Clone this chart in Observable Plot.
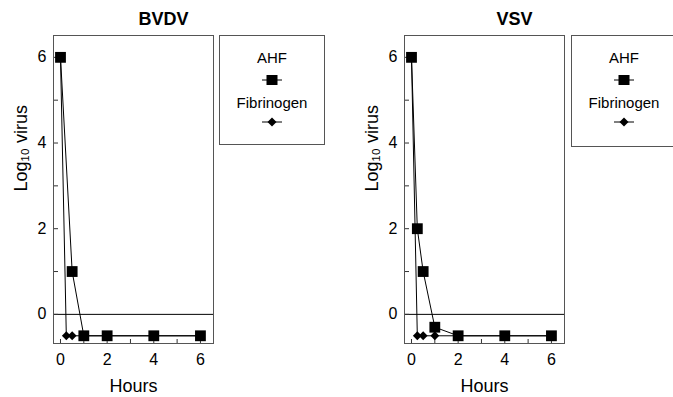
<!DOCTYPE html>
<html><head><meta charset="utf-8">
<script src="https://cdn.jsdelivr.net/npm/d3@7"></script>
<script src="https://cdn.jsdelivr.net/npm/@observablehq/plot@0.6"></script>
<style>
body{margin:0;background:#fff;font-family:"Liberation Sans",Arial,sans-serif;}
#root{position:relative;width:673px;height:397px;overflow:hidden;background:#fff;}
.panel{position:absolute;top:0;}
.legend{position:absolute;top:35px;border:1px solid #555;box-sizing:border-box;color:#000;font-size:15px;}
.legend .t{position:absolute;left:0;right:0;text-align:center;line-height:16px;}
.legend svg{position:absolute;}
</style></head><body><div id="root"></div>
<script>
// ---- data ----
const series = ["AHF", "Fibrinogen"];
const bvdvAhfHours = [0, 0.5, 1, 2, 4, 6];
const bvdvAhfLog = [6, 1, -0.5, -0.5, -0.5, -0.5];
const bvdvFibHours = [0, 0.25, 0.5, 1, 2, 4, 6];
const bvdvFibLog = [6, -0.5, -0.5, -0.5, -0.5, -0.5, -0.5];
const vsvAhfHours = [0, 0.25, 0.5, 1, 2, 4, 6];
const vsvAhfLog = [6, 2, 1, -0.3, -0.5, -0.5, -0.5];
const vsvFibHours = [0, 0.25, 0.5, 1, 2, 4, 6];
const vsvFibLog = [6, -0.5, -0.5, -0.5, -0.5, -0.5, -0.5];
const yTickLabels = [0, 2, 4, 6];
const yTicks = [0, 1, 2, 3, 4, 5, 6];
const xTickLabels = [0, 2, 4, 6];
const xTicks = [0, 1, 2, 3, 4, 5, 6];

const font = "Liberation Sans, Arial, sans-serif";

function panel(title, ahfH, ahfV, fibH, fibV) {
  const ahf = ahfH.map((h, i) => ({h, v: ahfV[i]}));
  const fib = fibH.map((h, i) => ({h, v: fibV[i]}));
  return Plot.plot({
    width: 220, height: 397,
    marginLeft: 53, marginRight: 7, marginTop: 35, marginBottom: 54,
    style: {fontFamily: font, fontSize: "16px", color: "#000", background: "transparent", overflow: "visible"},
    x: {domain: [-0.3, 6.56]},
    y: {domain: [-0.68, 6.51]},
    marks: [
      Plot.ruleY([0], {stroke: "#000", strokeWidth: 1}),
      Plot.ruleY(yTicks, {y: d => d, insetRight: 155, stroke: "#333"}),
      Plot.ruleX(xTicks, {x: d => d, insetTop: 304, stroke: "#333"}),
      Plot.axisY(yTickLabels, {tickSize: 0, tickPadding: 7, fontSize: 16, label: null}),
      Plot.axisX(xTickLabels, {tickSize: 0, tickPadding: 10, fontSize: 16, label: null}),
      Plot.frame({stroke: "#555"}),
      Plot.line(fib, {x: "h", y: "v", stroke: "#000", strokeWidth: 1}),
      Plot.dot(fib, {x: "h", y: "v", symbol: "diamond2", r: 4, fill: "#000", stroke: "none"}),
      Plot.line(ahf, {x: "h", y: "v", stroke: "#000", strokeWidth: 1}),
      Plot.dot(ahf, {x: "h", y: "v", symbol: "square", r: 6.1, fill: "#000", stroke: "none"}),
      Plot.text([title], {frameAnchor: "top", dx: 30, dy: -16, lineAnchor: "middle", fontWeight: "bold", fontSize: 18}),
      Plot.text(["Hours"], {frameAnchor: "bottom", dy: 43, lineAnchor: "middle", fontSize: 18}),
      Plot.text(["Log\u2081\u2080 virus"], {frameAnchor: "left", rotate: -90, dx: -32, dy: 2, lineAnchor: "middle", fontSize: 18})
    ]
  });
}

function legend(left, width, height) {
  const d = document.createElement("div");
  d.className = "legend";
  d.style.left = left + "px";
  d.style.width = width + "px";
  d.style.height = height + "px";
  const cx = width / 2 - 1;
  d.innerHTML =
    `<div class="t" style="top:14px">${series[0]}</div>` +
    `<svg width="24" height="14" style="left:${cx - 12}px;top:37px"><line x1="2" x2="22" y1="7" y2="7" stroke="#000"/><rect x="6.5" y="2" width="11" height="10" fill="#000"/></svg>` +
    `<div class="t" style="top:59px">${series[1]}</div>` +
    `<svg width="24" height="14" style="left:${cx - 12}px;top:79px"><line x1="2" x2="22" y1="7" y2="7" stroke="#000"/><path d="M12,2.5 L16.5,7 L12,11.5 L7.5,7Z" fill="#000"/></svg>`;
  return d;
}

const root = document.getElementById("root");
const p1 = panel("BVDV", bvdvAhfHours, bvdvAhfLog, bvdvFibHours, bvdvFibLog);
p1.classList.add("panel"); p1.style.left = "0px";
const p2 = panel("VSV", vsvAhfHours, vsvAhfLog, vsvFibHours, vsvFibLog);
p2.classList.add("panel"); p2.style.left = "351px";
root.appendChild(p1);
root.appendChild(p2);
root.appendChild(legend(219, 106, 110));
root.appendChild(legend(571, 106, 112));
</script></body></html>
